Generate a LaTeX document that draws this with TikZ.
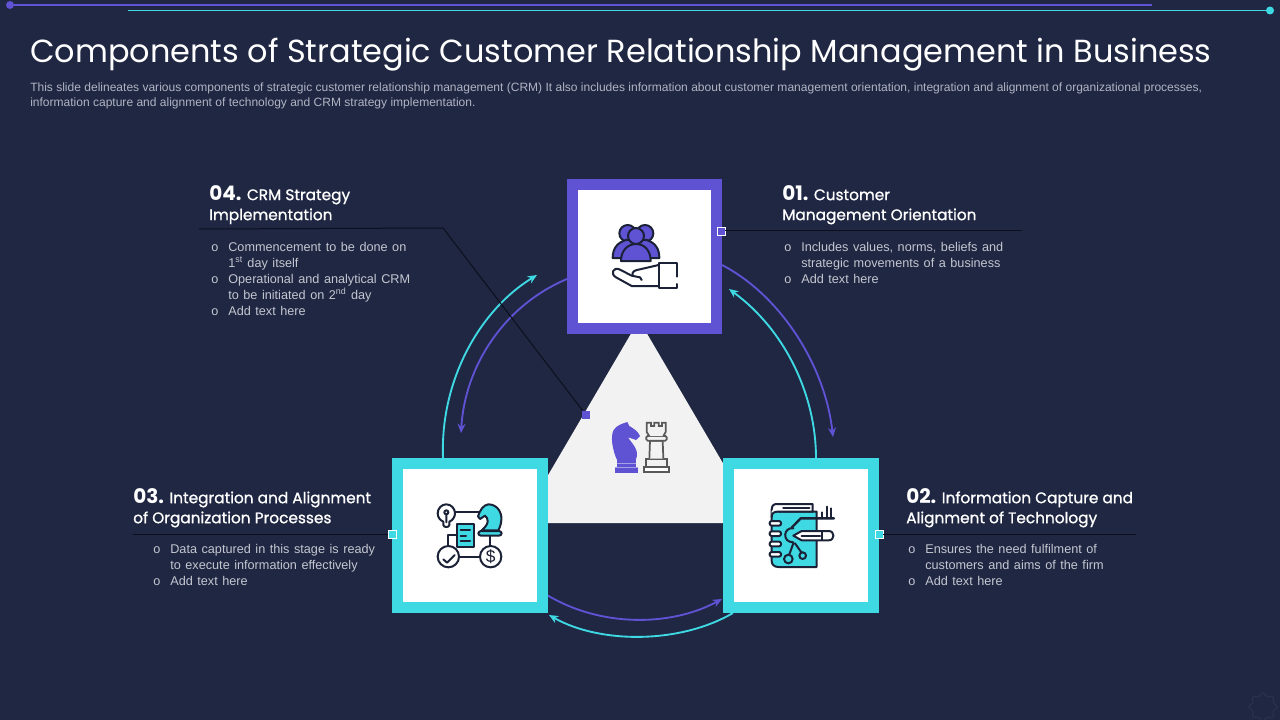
\documentclass[tikz,border=0pt]{standalone}
\usepackage{fontspec}
\setmainfont{Liberation Sans}
\newfontfamily\headfont{Poppins}
\newfontfamily\headsemi{Poppins}[FakeBold=1]
\newfontfamily\bodyfont{Liberation Sans}[WordSpace=1.29]
\usetikzlibrary{arrows.meta}
\definecolor{bgc}{HTML}{1F2743}
\definecolor{purp}{HTML}{5F52D3}
\definecolor{teal1}{HTML}{3FD9E4}
\definecolor{ink}{HTML}{1B2136}
\definecolor{bodyc}{HTML}{C4C7D0}
\definecolor{descc}{HTML}{B0B4C2}
\definecolor{leader}{HTML}{0C0F1C}
\definecolor{tri}{HTML}{F2F2F2}
\definecolor{gearc}{HTML}{2A3250}
\newcommand{\bul}{\makebox[14.3pt][l]{\hspace{1.5pt}o}}
\newcommand{\ind}{\hspace{14.3pt}}
\tikzset{
  x=0.75pt,y=-0.75pt,
  framep/.style={draw=purp,fill=white,line width=8.25pt,minimum width=108pt,minimum height=108pt,inner sep=0pt},
  framet/.style={draw=teal1,fill=white,line width=8.25pt,minimum width=108.75pt,minimum height=108pt,inner sep=0pt},
  handle/.style={minimum size=6pt,inner sep=0pt,line width=.7pt},
  lead/.style={draw=leader,line width=.75pt},
  title/.style={anchor=west,inner sep=0pt,text=white,font=\headfont\fontsize{23.95}{28}\selectfont},
  desc/.style={anchor=north west,inner sep=0pt,text=descc,align=left,font=\fontsize{9.02}{11.2}\selectfont},
  head/.style={anchor=north west,inner sep=0pt,text=white,align=left,font=\headsemi\fontsize{11.5}{15}\selectfont},
  body/.style={anchor=north west,inner sep=0pt,text=bodyc,align=left,font=\bodyfont\fontsize{9.5}{12}\selectfont},
  arcp/.style={draw=purp,line width=1.4pt,-{Stealth[length=7pt,width=6pt]}},
  arct/.style={draw=teal1,line width=1.4pt,-{Stealth[length=7pt,width=6pt]}},
  ic/.style={draw=ink,line width=1.5pt,line join=round,line cap=round},
  zoomed/.style={x=0.25pt,y=-0.25pt},
}
\newcommand{\num}[1]{{\headfont\bfseries\fontsize{15}{15}\selectfont #1}}
\begin{document}
\begin{tikzpicture}
\useasboundingbox (0,0) rectangle (1280,720);
\fill[bgc] (0,0) rectangle (1280,720);

% top rules
\coordinate (pa) at (1152,5);
\node[circle,fill=purp,minimum size=6pt,inner sep=0pt] (pd) at (10,5) {};
\draw[purp,line width=.9pt] (pd) -- (pa);
\coordinate (ta) at (128,10.5);
\node[circle,fill=teal1,minimum size=6pt,inner sep=0pt] (td) at (1270,10.5) {};
\draw[teal1,line width=.9pt] (ta) -- (td);

% title
\node[title] (ttl) at (30,55) {Components of Strategic Customer Relationship Management in Business};
\node[desc] (dsc) at (30,83) {This slide delineates various components of strategic customer relationship management (CRM) It also includes information about customer management orientation, integration and alignment of organizational processes,\\information capture and alignment of technology and CRM strategy implementation.};

% central triangle
\fill[tri] (639,320) -- (758,523) -- (520,523) -- cycle;

% arcs
\coordinate (a1s) at (722,265); \coordinate (a1e) at (833,437);
\coordinate (a2s) at (816,458); \coordinate (a2e) at (729,289);
\coordinate (a3s) at (547,595); \coordinate (a3e) at (722,599);
\coordinate (a4s) at (733,613); \coordinate (a4e) at (549,615);
\coordinate (a5s) at (443,458); \coordinate (a5e) at (537,275);
\coordinate (a6s) at (567,279); \coordinate (a6e) at (461,433);
\draw[arcp] (a1s) .. controls (780,295) and (825,365) .. (a1e);
\draw[arct] (a2s) .. controls (816,395) and (785,330) .. (a2e);
\draw[arcp] (a3s) .. controls (600,627) and (670,627) .. (a3e);
\draw[arct] (a4s) .. controls (680,644) and (600,644) .. (a4e);
\draw[arct] (a5s) .. controls (440,380) and (480,310) .. (a5e);
\draw[arcp] (a6s) .. controls (505,305) and (465,365) .. (a6e);

% leader lines (behind the boxes)
\node[handle,fill=purp] (h4) at (586,415) {};
\coordinate (l4a) at (199,229); \coordinate (l4b) at (443,228);
\draw[lead] (l4a) -- (l4b) -- (h4);
\coordinate (l1) at (1022,231);
\coordinate (l2) at (1136,534);
\coordinate (l3) at (133,534);

% boxes
\node[framep] (top) at (644.5,256.5) {};
\node[framet] (lft) at (470,535.5) {};
\node[framet] (rgt) at (801,535.5) {};

\node[handle,fill=purp,draw=white] (h1) at (721,231) {};
\node[handle,fill=teal1,draw=white] (h2) at (879,534) {};
\node[handle,fill=teal1,draw=white] (h3) at (392,534) {};
\draw[lead] (h1) -- (l1);
\draw[lead] (h2) -- (l2);
\draw[lead] (h3) -- (l3);

% text blocks
\node[head] (t4) at (209,185) {\num{04.} CRM Strategy\\Implementation};
\node[body] (b4) at (209,242) {\bul Commencement to be done on\\\ind 1\textsuperscript{st} day itself\\\bul Operational and analytical CRM\\\ind to be initiated on 2\textsuperscript{nd} day\\\bul Add text here};
\node[head] (t1) at (782,185) {\num{01.} Customer\\Management Orientation};
\node[body] (b1) at (782,242) {\bul Includes values, norms, beliefs and\\\ind strategic movements of a business\\\bul Add text here};
\node[head] (t2) at (906,488) {\num{02.} Information Capture and\\Alignment of Technology};
\node[body] (b2) at (906,544) {\bul Ensures the need fulfilment of\\\ind customers and aims of the firm\\\bul Add text here};
\node[head] (t3) at (133,488) {\num{03.} Integration and Alignment\\of Organization Processes};
\node[body] (b3) at (151,544) {\bul Data captured in this stage is ready\\\ind to execute information effectively\\\bul Add text here};

% icon: people and hand
\begin{scope}[shift={(560,170)},zoomed]
 \filldraw[ic,fill=purp] (203,190) circle (25);
 \filldraw[ic,fill=purp] (255,190) circle (25);
 \filldraw[ic,fill=purp] (158,264) .. controls (158,235) and (172,218) .. (198,210) -- (260,210) .. controls (285,218) and (298,235) .. (298,264) -- cycle;
 \filldraw[ic,fill=purp] (183,273) .. controls (183,240) and (205,222) .. (228,222) .. controls (252,222) and (272,240) .. (272,273) -- cycle;
 \filldraw[ic,fill=purp] (228,198) circle (24);
 \draw[ic] (350,320) -- (350,278) -- (296,278) -- (296,354) -- (350,354) -- (350,342);
 \draw[ic] (296,348) -- (215,348) -- (168,322) .. controls (150,312) and (160,290) .. (178,298) -- (215,317) -- (240,322) -- (245,330);
 \draw[ic] (218,315) .. controls (215,305) and (225,300) .. (240,298) -- (296,285);
\end{scope}

% icon: strategy network
\begin{scope}[shift={(390,455)},zoomed]
 \draw[ic] (196,172) -- (270,172);
 \draw[ic] (300,242) -- (300,272);
 \draw[ic] (207,305) -- (270,305);
 \draw[ic] (200,240) -- (175,240) -- (175,273);
 \draw[ic] (160,200) .. controls (150,196) and (143,186) .. (143,175) .. controls (143,160) and (155,148) .. (169,148) .. controls (183,148) and (195,160) .. (195,175) .. controls (195,186) and (188,196) .. (178,200) -- (178,210) .. controls (178,218) and (160,218) .. (160,210) -- cycle;
 \draw[ic] (169,172) circle (6) (169,178) -- (169,202);
 \filldraw[ic,fill=teal1] (275,226) .. controls (300,205) and (295,190) .. (285,182) -- (270,192) -- (264,184) .. controls (270,165) and (280,150) .. (295,148) .. controls (320,148) and (336,170) .. (334,195) .. controls (333,210) and (328,220) .. (325,226) -- cycle;
 \filldraw[ic,fill=teal1,rounded corners=2pt] (265,228) rectangle (335,242);
 \filldraw[ic,fill=teal1] (200,208) rectangle (252,275);
 \draw[ic] (212,226) -- (240,226) (212,242) -- (228,242) (212,258) -- (240,258);
 \filldraw[ic,fill=white] (175,305) circle (32);
 \filldraw[ic,fill=white] (302,305) circle (32);
 \draw[ic] (160,313) -- (171,323) -- (194,300);
 \node[text=ink,font=\fontsize{13}{13}\selectfont,inner sep=0pt] (dollar) at (302,305) {\$};
\end{scope}

% icon: notebook and pencil
\begin{scope}[shift={(720,455)},zoomed]
 \filldraw[ic,fill=teal1] (175,170) -- (290,170) -- (290,336) -- (175,336) .. controls (162,336) and (155,328) .. (155,318) -- (155,165);
 \filldraw[ic,fill=white] (155,165) .. controls (155,153) and (160,147) .. (170,147) -- (278,147) -- (278,170) -- (172,170) .. controls (162,170) and (155,175) .. (155,185);
 \draw[ic,line width=1.8pt] (190,159) -- (268,159);
 \foreach \yy in {205,236,267,298} {
   \filldraw[ic,fill=white,rounded corners=1.5pt] (149,\yy-7) rectangle (183,\yy+7);
 }
 \draw[ic] (305,190) -- (305,172) (320,190) -- (320,155) (333,190) -- (333,160);
 \draw[ic,line width=1.8pt] (342,190) -- (242,190) -- (215,218);
 \draw[ic] (220,220) .. controls (190,215) and (185,262) .. (220,262);
 \draw[ic] (220,265) -- (208,298) (225,265) -- (244,292);
 \filldraw[ic,fill=teal1] (205,312) circle (13);
 \filldraw[ic,fill=teal1] (248,302) circle (10);
 \filldraw[ic,fill=white] (220,242) -- (245,228) -- (326,228) .. controls (345,228) and (345,256) .. (326,256) -- (245,256) -- cycle;
 \draw[ic] (245,242) -- (300,242) (305,230) -- (305,254);
\end{scope}

% icon: chess pieces
\begin{scope}[shift={(570,400)},zoomed]
 \fill[purp] (134,202) rectangle (204,218);
 \fill[purp] (140,176) rectangle (198,202);
 \fill[purp] (140,178) .. controls (128,150) and (120,110) .. (131,90) .. controls (140,75) and (160,70) .. (172,66) -- (178,78) .. controls (190,85) and (205,95) .. (210,108) -- (198,120) -- (174,112) .. controls (185,130) and (210,150) .. (198,178) -- cycle;
 \draw[purp!55!white,line width=.5pt] (140,190) -- (198,190) (136,203) -- (203,203);
 \draw[gray!70!black,line width=1.3pt,fill=white] (221,202) -- (296,202) -- (296,217) -- (221,217) -- cycle;
 \draw[gray!70!black,line width=1.3pt,fill=tri] (228,176) -- (290,176) -- (290,202) -- (228,202) -- cycle;
 \draw[gray!70!black,line width=1.3pt,fill=tri] (238,176) -- (240,122) -- (278,122) -- (280,176);
 \draw[gray!70!black,line width=1.3pt,fill=tri,rounded corners=1pt] (229,108) rectangle (290,122);
 \draw[gray!70!black,line width=1.3pt,fill=tri] (238,108) -- (230,96) -- (230,68) -- (243,68) -- (243,78) -- (253,78) -- (253,68) -- (266,68) -- (266,78) -- (276,78) -- (276,68) -- (287,68) -- (287,96) -- (280,108);
\end{scope}

% faint gear, lower right
\draw[gearc,line width=.8pt] plot[smooth cycle,samples=48,domain=0:352.5] ({1263+(12.5+1.6*cos(8*\x))*cos(\x)},{707+(12.5+1.6*cos(8*\x))*sin(\x)});
\end{tikzpicture}
\end{document}
